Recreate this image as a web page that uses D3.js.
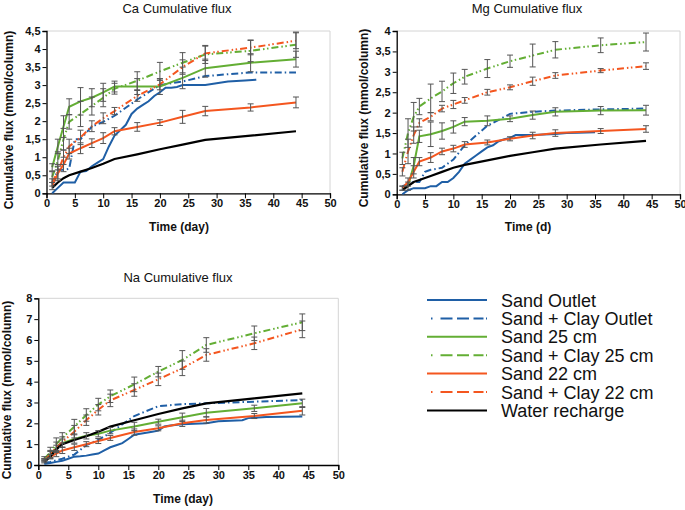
<!DOCTYPE html>
<html>
<head>
<meta charset="utf-8">
<script src="https://cdn.jsdelivr.net/npm/d3@7"></script>
<style>
body { margin: 0; background: #fff; }
svg { display: block; font-family: "Liberation Sans", Arial, sans-serif; }
.tick text { font-weight: bold; font-size: 11px; fill: #111; }
.tick line, .domain { stroke: #000; }
.title { font-size: 13px; fill: #111; }
.axlabel { font-size: 12px; font-weight: bold; fill: #111; }
.legend text { font-size: 18px; fill: #111; }
</style>
</head>
<body>
<svg width="685" height="510"></svg>
<script>
const seriesNames = ["Sand Outlet", "Sand + Clay Outlet", "Sand 25 cm", "Sand + Clay 25 cm", "Sand 22 cm", "Sand + Clay 22 cm", "Water recharge"]

const sampleDays = [1, 2, 3, 4, 6, 8, 10, 12, 16, 20, 24, 28, 36, 44]
const clayOutletDays = [1, 2, 3, 4, 5, 6, 8, 10, 12, 16, 20, 24, 28, 36, 44]

// Ca
const caOutletDays = [1,2,3,4,5,6,7,8,9,10,11,12,13,14,15,16,17,18,19,20,21,22,23,24,28,30,32,35,37]
const caSandOutlet = [0,0.15,0.3,0.3,0.3,0.6,0.62,0.75,0.85,0.95,1.3,1.6,1.75,1.9,2.2,2.35,2.45,2.55,2.7,2.8,2.93,2.93,2.95,3.0,3.0,3.05,3.1,3.13,3.15]
const caClayOutlet = [0.25,0.65,0.65,0.68,1.5,1.5,1.85,1.98,2.15,2.6,3.0,3.1,3.25,3.35,3.35]
const caSand25 = [0.72,1.3,1.85,2.4,2.55,2.65,2.8,2.96,2.96,2.96,3.2,3.47,3.62,3.72]
const caSand25Err = [0.1,0.2,0.3,0.22,0.38,0.25,0.25,0.15,0.22,0.22,0.3,0.25,0.25,0.22]
const caClay25 = [0.45,0.9,1.5,1.98,2.2,2.42,2.65,2.9,3.12,3.38,3.62,3.85,3.95,4.12]
const caClay25Err = [0.15,0.25,0.3,0.2,0.35,0.25,0.25,0.15,0.25,0.25,0.28,0.25,0.3,0.35]
const caSand22 = [0.2,0.55,0.8,1.1,1.25,1.39,1.53,1.72,1.84,1.96,2.12,2.28,2.38,2.52]
const caSand22Err = [0.1,0.2,0.2,0.15,0.15,0.12,0.15,0.1,0.12,0.08,0.18,0.13,0.1,0.15]
const caClay22 = [0.3,0.6,1.0,1.3,1.55,1.86,2.08,2.28,2.7,3.02,3.5,3.88,4.04,4.23]
const caClay22Err = [0.1,0.2,0.2,0.2,0.2,0.15,0.15,0.1,0.15,0.15,0.2,0.2,0.2,0.22]
const caWater = [0.15,0.3,0.42,0.5,0.6,0.7,0.82,0.95,1.08,1.22,1.35,1.48,1.6,1.72]

// Mg
const mgOutletDays = [1,2,3,4,5,6,7,8,9,10,11,12,13,14,15,16,17,18,19,20,21,22,23,24,28,30,32,35]
const mgSandOutlet = [0,0.1,0.15,0.15,0.15,0.2,0.2,0.3,0.3,0.4,0.55,0.75,0.85,0.95,1.05,1.15,1.2,1.3,1.35,1.38,1.45,1.45,1.45,1.45,1.48,1.5,1.51,1.52]
const mgClayOutlet = [0.2,0.25,0.3,0.3,0.55,0.6,0.65,0.85,1.2,1.68,1.97,2.02,2.05,2.08,2.1]
const mgSand25 = [0.15,0.2,0.7,1.42,1.47,1.55,1.65,1.78,1.8,1.85,1.94,2.02,2.05,2.06]
const mgSand25Err = [0.05,0.1,0.2,0.15,0.3,0.2,0.15,0.1,0.12,0.07,0.1,0.1,0.1,0.12]
const mgClay25 = [0.88,1.5,1.9,2.15,2.35,2.52,2.72,2.88,3.08,3.26,3.4,3.54,3.65,3.73]
const mgClay25Err = [0.15,0.35,0.35,0.2,0.35,0.25,0.25,0.18,0.22,0.15,0.28,0.2,0.18,0.22]
const mgSand22 = [0.15,0.3,0.55,0.8,0.9,1.05,1.12,1.22,1.27,1.36,1.44,1.5,1.55,1.6]
const mgSand22Err = [0.05,0.1,0.15,0.1,0.12,0.08,0.08,0.07,0.06,0.05,0.08,0.08,0.06,0.08]
const mgClay22 = [0.55,1.05,1.45,1.75,1.9,2.1,2.2,2.3,2.5,2.62,2.77,2.91,3.03,3.14]
const mgClay22Err = [0.1,0.3,0.2,0.1,0.1,0.08,0.1,0.07,0.07,0.06,0.1,0.07,0.05,0.08]
const mgWater = [0.1,0.2,0.3,0.35,0.45,0.55,0.65,0.72,0.83,0.94,1.03,1.12,1.22,1.31]

// Na
const naOutletDays = [1,2,3,4,5,6,7,8,9,10,11,12,13,14,15,16,17,18,19,20,21,22,24,28,30,34,35,38,44]
const naSandOutlet = [0.05,0.1,0.15,0.2,0.3,0.4,0.42,0.45,0.5,0.55,0.7,0.85,0.95,1.05,1.25,1.45,1.5,1.55,1.6,1.65,1.85,1.9,1.95,2.0,2.1,2.15,2.25,2.3,2.33]
const naClayOutlet = [0.1,0.15,0.22,0.3,0.4,0.5,0.95,1.2,1.55,2.35,2.82,2.92,2.96,3.04,3.12]
const naSand25 = [0.25,0.5,0.8,1.05,1.25,1.4,1.5,1.65,1.85,2.08,2.29,2.51,2.72,2.96]
const naSand25Err = [0.05,0.15,0.15,0.2,0.2,0.15,0.15,0.15,0.2,0.12,0.2,0.2,0.15,0.2]
const naClay25 = [0.3,0.6,1.0,1.3,1.84,2.4,2.9,3.3,3.87,4.48,5.04,5.76,6.32,6.85]
const naClay25Err = [0.1,0.25,0.3,0.25,0.35,0.3,0.3,0.3,0.35,0.25,0.45,0.35,0.35,0.4]
const naSand22 = [0.2,0.4,0.55,0.7,0.85,1.0,1.15,1.3,1.58,1.76,2.0,2.16,2.35,2.6]
const naSand22Err = [0.05,0.1,0.15,0.15,0.15,0.12,0.12,0.12,0.15,0.12,0.15,0.15,0.12,0.2]
const naClay22 = [0.2,0.5,0.85,1.1,1.6,2.15,2.65,3.1,3.6,4.11,4.64,5.28,5.84,6.51]
const naClay22Err = [0.1,0.2,0.25,0.25,0.3,0.25,0.25,0.3,0.3,0.3,0.35,0.3,0.3,0.4]
const naWater = [0.15,0.4,0.75,1.0,1.2,1.38,1.6,1.84,2.15,2.45,2.72,2.96,3.2,3.44]

// styles, same order as seriesNames
const blue = "#1f5fa6", green = "#63ae34", red = "#f4561f"
const seriesStyle = [
  {color: blue, dash: null},
  {color: blue, dash: "7,3,1.5,3"},
  {color: green, dash: null},
  {color: green, dash: "7,3,1.5,2.5,1.5,3"},
  {color: red, dash: null},
  {color: red, dash: "7,3,1.5,2.5,1.5,3"},
  {color: "#000", dash: null}
]

const fmt = v => String(v).replace(".", ",")

const panels = [
  {title: "Ca Cumulative flux", xTitle: "Time (day)", yMax: 4.5, yStep: 0.5,
   left: 46.5, right: 330, top: 31, bottom: 193.3,
   titleX: 177, titleY: 13, xTitleX: 179, xTitleY: 231, yTitleX: 9, yTitleY: 120,
   series: [
     {days: caOutletDays, values: caSandOutlet},
     {days: clayOutletDays, values: caClayOutlet},
     {days: sampleDays, values: caSand25, err: caSand25Err},
     {days: sampleDays, values: caClay25, err: caClay25Err},
     {days: sampleDays, values: caSand22, err: caSand22Err},
     {days: sampleDays, values: caClay22, err: caClay22Err},
     {days: sampleDays, values: caWater}
   ]},
  {title: "Mg Cumulative flux", xTitle: "Time (d)", yMax: 4, yStep: 0.5,
   left: 396.7, right: 680, top: 31, bottom: 194.3,
   titleX: 527, titleY: 13, xTitleX: 528, xTitleY: 231, yTitleX: 364, yTitleY: 118,
   series: [
     {days: mgOutletDays, values: mgSandOutlet},
     {days: clayOutletDays, values: mgClayOutlet},
     {days: sampleDays, values: mgSand25, err: mgSand25Err},
     {days: sampleDays, values: mgClay25, err: mgClay25Err},
     {days: sampleDays, values: mgSand22, err: mgSand22Err},
     {days: sampleDays, values: mgClay22, err: mgClay22Err},
     {days: sampleDays, values: mgWater}
   ]},
  {title: "Na Cumulative flux", xTitle: "Time (day)", yMax: 8, yStep: 1,
   left: 38.3, right: 338.3, top: 298.3, bottom: 465,
   titleX: 178, titleY: 282, xTitleX: 183, xTitleY: 503, yTitleX: 7, yTitleY: 390,
   series: [
     {days: naOutletDays, values: naSandOutlet},
     {days: clayOutletDays, values: naClayOutlet},
     {days: sampleDays, values: naSand25, err: naSand25Err},
     {days: sampleDays, values: naClay25, err: naClay25Err},
     {days: sampleDays, values: naSand22, err: naSand22Err},
     {days: sampleDays, values: naClay22, err: naClay22Err},
     {days: sampleDays, values: naWater}
   ]}
]

const svg = d3.select("svg")

panels.forEach(p => {
  const x = d3.scaleLinear().domain([0, 50]).range([p.left, p.right])
  const y = d3.scaleLinear().domain([0, p.yMax]).range([p.bottom, p.top])
  const g = svg.append("g")

  // light frame on top and right
  g.append("path")
    .attr("d", `M${p.left},${p.top}H${p.right}V${p.bottom}`)
    .attr("fill", "none").attr("stroke", "#d4d4d4").attr("stroke-width", 1)

  g.append("g")
    .attr("transform", `translate(${p.left},0)`)
    .call(d3.axisLeft(y).tickValues(d3.range(0, p.yMax + 0.001, p.yStep)).tickSize(4).tickPadding(2).tickFormat(fmt))
    .call(a => a.select(".domain").attr("stroke-width", 1.3))

  g.append("g")
    .attr("transform", `translate(0,${p.bottom})`)
    .call(d3.axisBottom(x).tickValues(d3.range(0, 51, 5)).tickSize(5).tickPadding(1).tickFormat(d3.format("d")))
    .call(a => a.select(".domain").attr("stroke-width", 1.3))

  const line = d3.line().x(d => x(d[0])).y(d => y(d[1]))

  p.series.forEach((s, i) => {
    const pts = s.days.map((d, j) => [d, s.values[j]])
    g.append("path")
      .datum(pts)
      .attr("d", line)
      .attr("fill", "none")
      .attr("stroke", seriesStyle[i].color)
      .attr("stroke-width", i === 6 ? 2.2 : 2)
      .attr("stroke-dasharray", seriesStyle[i].dash)
  })

  // error bars
  p.series.forEach(s => {
    if (!s.err) return
    s.days.forEach((d, j) => {
      const cx = x(d), hi = y(s.values[j] + s.err[j]), lo = y(s.values[j] - s.err[j])
      g.append("path")
        .attr("d", `M${cx},${hi}V${lo}M${cx - 3},${hi}H${cx + 3}M${cx - 3},${lo}H${cx + 3}`)
        .attr("fill", "none").attr("stroke", "#555").attr("stroke-width", 1)
    })
  })

  g.append("text").attr("class", "title")
    .attr("x", p.titleX).attr("y", p.titleY).attr("text-anchor", "middle").text(p.title)
  g.append("text").attr("class", "axlabel")
    .attr("x", p.xTitleX).attr("y", p.xTitleY).attr("text-anchor", "middle").text(p.xTitle)
  g.append("text").attr("class", "axlabel")
    .attr("transform", `translate(${p.yTitleX},${p.yTitleY}) rotate(-90)`)
    .attr("dy", "0.35em").attr("text-anchor", "middle").text("Cumulative flux (mmol/column)")
})

// legend
const legend = svg.append("g").attr("class", "legend")
seriesNames.forEach((name, i) => {
  const ly = 300 + i * 18.4
  const st = seriesStyle[i]
  legend.append("line")
    .attr("x1", st.dash ? 431 : 427).attr("x2", 487)
    .attr("y1", ly).attr("y2", ly)
    .attr("stroke", st.color).attr("stroke-width", 2)
    .attr("stroke-dasharray", st.dash ? "1.5,8,12,4.5,12,4.5,10,2.5,1.5" : null)
  legend.append("text").attr("x", 501).attr("y", ly + 6.5).text(name)
})
</script>
</body>
</html>
